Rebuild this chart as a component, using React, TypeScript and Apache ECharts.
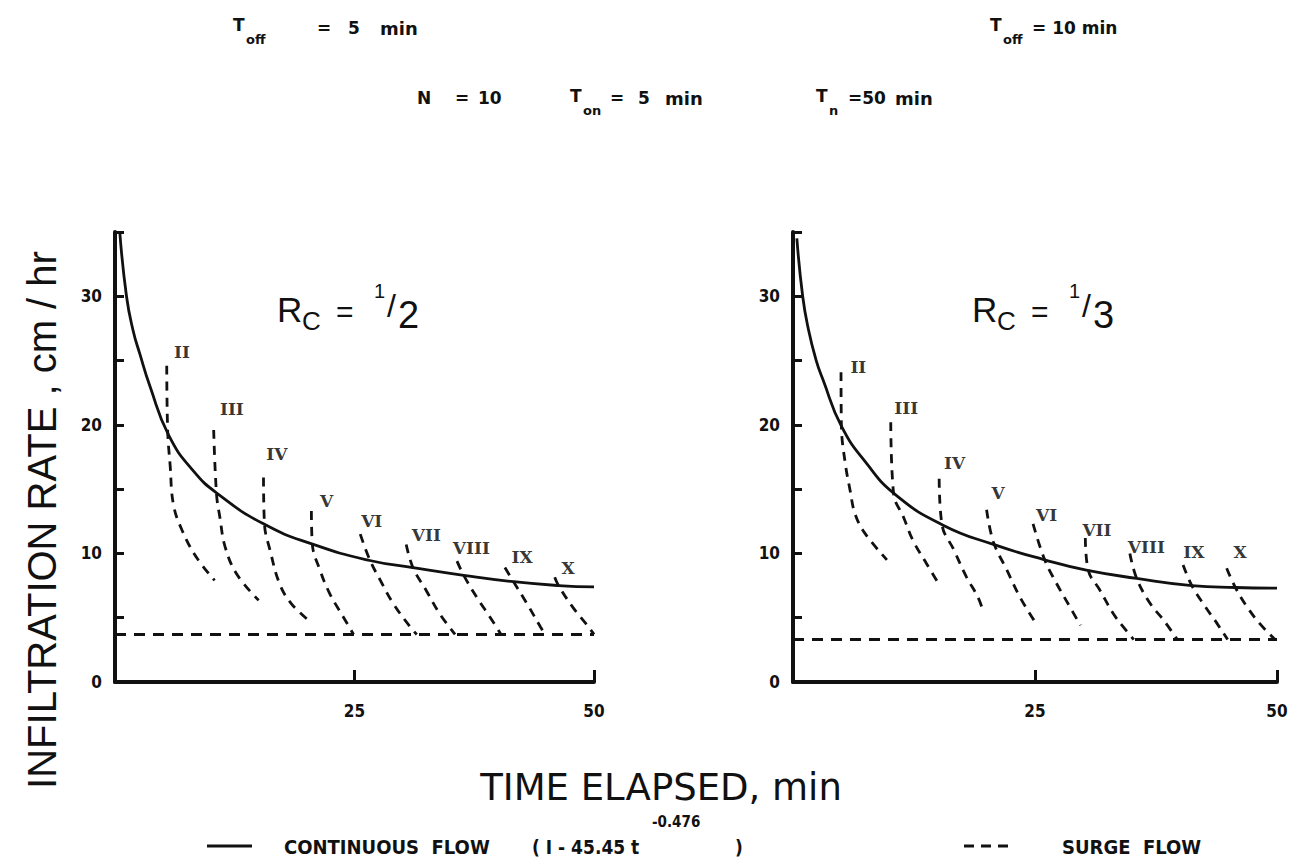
import React, { useEffect, useRef } from 'react';
import * as echarts from 'echarts';

type P = [number, number];

// ---- axes ----
const xMin = 0;
const xMax = 50;
const xInterval = 25;
const yMin = 0;
const yMax = 35;
const yInterval = 5;
const xLabelValues = [25, 50];
const yLabelValues = [0, 10, 20, 30];

const romanNames = ['II', 'III', 'IV', 'V', 'VI', 'VII', 'VIII', 'IX', 'X'];

// ---- Rc = 1/2 (left) ----
const continuousHalf: P[] = [
  [0.5, 35], [1.2, 30], [1.9, 27.3], [2.6, 25.5], [3.65, 23.0], [5.6, 19.2],
  [8.2, 16.4], [10.8, 14.6], [15.5, 12.3], [20.7, 10.7], [26.6, 9.45],
  [31.1, 8.9], [36.4, 8.3], [41.6, 7.8], [46.3, 7.5], [50, 7.4],
];
const baseHalf = 3.7;
const surgeHalf: P[][] = [
  [[5.4, 24.6], [5.5, 19.5], [5.75, 16.9], [6.1, 13.8], [7.0, 11.8], [8.5, 9.7], [10.4, 7.9]],
  [[10.3, 19.6], [10.6, 14.6], [10.95, 12.8], [11.5, 10.5], [12.7, 8.4], [15.0, 6.35]],
  [[15.5, 15.9], [15.6, 12.3], [16.2, 10.2], [17.2, 7.6], [18.4, 6.1], [20.2, 4.8]],
  [[20.5, 13.3], [20.6, 10.7], [21.4, 8.7], [22.4, 6.9], [23.8, 5.1], [24.9, 3.7]],
  [[25.6, 11.5], [26.6, 9.5], [27.7, 7.9], [29.05, 6.1], [30.8, 4.3], [31.5, 3.7]],
  [[30.4, 10.7], [31.1, 8.9], [32.5, 7.1], [33.9, 5.3], [35.5, 3.7]],
  [[35.7, 9.4], [36.4, 8.3], [37.75, 6.6], [39.1, 5.1], [40.3, 3.7]],
  [[40.7, 8.9], [41.6, 7.8], [43.0, 6.1], [44.4, 4.3], [44.9, 3.7]],
  [[45.9, 8.15], [46.3, 7.5], [47.8, 5.8], [49.2, 4.5], [50, 3.7]],
];
const labelPosHalf: P[] = [
  [7.0, 25.7], [12.2, 21.2], [16.9, 17.7], [22.1, 14.1], [26.8, 12.5],
  [32.5, 11.4], [37.2, 10.4], [42.5, 9.7], [47.3, 8.9],
];

// ---- Rc = 1/3 (right) ----
const continuousThird: P[] = [
  [0.4, 34.5], [1.0, 30], [1.6, 27.4], [2.4, 25], [3.1, 23.5], [5.0, 19.9], [7.6, 17.0],
  [10.7, 14.5], [15.5, 12.2], [20.7, 10.7], [26.0, 9.5], [30.3, 8.7],
  [35.5, 8.06], [41.2, 7.5], [45.7, 7.35], [50, 7.3],
];
const baseThird = 3.3;
const surgeThird: P[][] = [
  [[4.96, 24.1], [5.0, 19.9], [5.4, 17.0], [5.9, 14.9], [6.4, 13.1], [7.4, 11.6], [9.7, 9.5]],
  [[10.1, 20.2], [10.4, 14.6], [11.4, 12.85], [12.4, 11.0], [13.8, 9.2], [15.0, 7.7]],
  [[15.1, 15.8], [15.4, 12.2], [16.6, 10.3], [17.9, 8.2], [19.1, 6.6], [19.7, 5.4]],
  [[20.0, 13.4], [20.7, 10.9], [22.1, 8.7], [23.45, 6.6], [24.9, 4.8]],
  [[24.8, 12.3], [26.0, 9.5], [27.2, 7.7], [28.6, 5.85], [29.7, 4.4]],
  [[30.2, 11.2], [30.5, 8.7], [31.7, 7.15], [33.1, 5.3], [34.1, 4.3], [35.2, 3.3]],
  [[34.8, 10.0], [35.5, 8.06], [36.9, 6.1], [38.3, 4.8], [39.7, 3.3]],
  [[40.3, 9.1], [41.2, 7.5], [42.6, 5.85], [43.8, 4.56], [44.9, 3.3]],
  [[44.8, 8.85], [45.7, 7.35], [46.9, 5.85], [48.2, 4.56], [49.8, 3.3]],
];
const labelPosThird: P[] = [
  [6.75, 24.5], [11.7, 21.3], [16.7, 17.0], [21.2, 14.7], [26.2, 13.0],
  [31.4, 11.8], [36.5, 10.5], [41.4, 10.1], [46.2, 10.1],
];

const INK = '#111111';
const SANS = "'DejaVu Sans', 'Liberation Sans', sans-serif";
const COND = "'DejaVu Sans Condensed', 'Liberation Sans Narrow', 'DejaVu Sans', sans-serif";
const PLAIN = "'Liberation Sans', 'Noto Sans', sans-serif";
const SERIF = "'DejaVu Serif', 'Liberation Serif', serif";

function buildSeries(k: number, cont: P[], base: number, surges: P[][], labels: P[]) {
  const out: any[] = [];
  out.push({
    type: 'line', xAxisIndex: k, yAxisIndex: k, data: cont, smooth: 0.5,
    symbol: 'none', silent: true, z: 4, lineStyle: { color: INK, width: 2.8 },
  });
  out.push({
    type: 'line', xAxisIndex: k, yAxisIndex: k, data: [[xMin, base], [xMax, base]],
    symbol: 'none', silent: true, lineStyle: { color: INK, width: 3, type: [11, 8] },
  });
  surges.forEach((s) => {
    out.push({
      type: 'line', xAxisIndex: k, yAxisIndex: k, data: s, smooth: 0.4,
      symbol: 'none', silent: true, lineStyle: { color: INK, width: 2.8, type: [9, 7] },
    });
  });
  out.push({
    type: 'scatter', xAxisIndex: k, yAxisIndex: k, symbolSize: 1, silent: true,
    itemStyle: { color: 'rgba(255,255,255,0)' },
    data: labels.map((p, i) => ({ value: p, name: romanNames[i] })),
    label: {
      show: true, formatter: '{b}', position: 'inside', color: '#000',
      fontSize: 17, fontWeight: 'bold', fontFamily: SERIF, textBorderWidth: 0,
    },
  });
  return out;
}

function txt(x: number, y: number, text: string, size: number, extra: any = {}) {
  return {
    type: 'text', x, y, silent: true,
    style: {
      text, fontSize: size, fontFamily: SANS, fontWeight: 'bold', fill: INK,
      textAlign: 'left', textVerticalAlign: 'middle', ...extra,
    },
  };
}

function rcTitle(dx: number, denom: string) {
  const f = { fontFamily: PLAIN, fontWeight: 'normal' };
  return [
    txt(277 + dx, 309, 'R', 35, f),
    txt(302 + dx, 321, 'C', 26, f),
    txt(336 + dx, 311, '=', 30, f),
    txt(374 + dx, 291, '1', 20, f),
    txt(387 + dx, 306, '/', 32, f),
    txt(398 + dx, 315, denom, 38, f),
  ];
}

const App: React.FC = () => {
  const ref = useRef<HTMLDivElement>(null);
  useEffect(() => {
    if (!ref.current) return;
    const chart = echarts.init(ref.current, null, { renderer: 'svg' });
    const xAxisBase = (gi: number) => ({
      type: 'value', gridIndex: gi, min: xMin, max: xMax, interval: xInterval,
      axisLine: { show: true, lineStyle: { color: INK, width: 4 } },
      axisTick: { show: true, inside: true, length: 12, lineStyle: { color: INK, width: 3 } },
      axisLabel: {
        margin: 20, color: INK, fontSize: 17, fontWeight: 'bold', fontFamily: COND,
        formatter: (v: number) => (xLabelValues.includes(v) ? String(v) : ''),
      },
      splitLine: { show: false },
    });
    const yAxisBase = (gi: number) => ({
      type: 'value', gridIndex: gi, min: yMin, max: yMax, interval: yInterval,
      axisLine: { show: true, lineStyle: { color: INK, width: 4 } },
      axisTick: { show: true, inside: true, length: 9, lineStyle: { color: INK, width: 3 } },
      axisLabel: {
        margin: 13, color: INK, fontSize: 17, fontWeight: 'bold', fontFamily: COND,
        formatter: (v: number) => (yLabelValues.includes(v) ? String(v) : ''),
      },
      splitLine: { show: false },
    });

    const graphic: any[] = [
      // top parameter lines
      txt(233, 25, 'T', 17), txt(246, 39, 'off', 13), txt(317, 28, '=', 17), txt(348, 28, '5', 17), txt(380, 28, 'min', 18),
      txt(990, 25, 'T', 17), txt(1003, 39, 'off', 13), txt(1032, 28, '= 10 min', 17),
      txt(417, 98, 'N', 17), txt(455, 98, '=', 17), txt(478, 98, '10', 17),
      txt(570, 96, 'T', 17), txt(583, 110, 'on', 13), txt(610, 98, '=', 17), txt(638, 98, '5', 17), txt(665, 98, 'min', 18),
      txt(816, 96, 'T', 17), txt(829, 110, 'n', 13), txt(848, 98, '=50', 17), txt(895, 98, 'min', 18),
      ...rcTitle(0, '2'),
      ...rcTitle(695, '3'),
      // axis names
      {
        type: 'text', x: 42, y: 520, rotation: Math.PI / 2, silent: true,
        style: {
          text: 'INFILTRATION RATE , cm / hr', fontSize: 40, fontFamily: PLAIN, fill: INK,
          textAlign: 'center', textVerticalAlign: 'middle',
        },
      },
      txt(661, 787, 'TIME ELAPSED, min', 37, { fontFamily: SANS, fontWeight: 'normal', textAlign: 'center' }),
      // legend
      { type: 'line', silent: true, shape: { x1: 207, y1: 846, x2: 252, y2: 846 }, style: { stroke: INK, lineWidth: 3 } },
      txt(284, 847, 'CONTINUOUS  FLOW', 20, { fontFamily: COND }),
      txt(532, 847, '( I - 45.45 t', 19, { fontFamily: COND }),
      txt(652, 822, '-0.476', 15, { fontFamily: COND }),
      txt(735, 847, ')', 19, { fontFamily: COND }),
      { type: 'line', silent: true, shape: { x1: 964, y1: 846, x2: 1008, y2: 846 }, style: { stroke: INK, lineWidth: 3, lineDash: [10, 7] } },
      txt(1062, 847, 'SURGE  FLOW', 20, { fontFamily: COND }),
    ];

    chart.setOption({
      animation: false,
      backgroundColor: '#ffffff',
      grid: [
        { left: 115, top: 232, width: 479, height: 450 },
        { left: 793, top: 232, width: 484, height: 450 },
      ],
      xAxis: [xAxisBase(0), xAxisBase(1)],
      yAxis: [yAxisBase(0), yAxisBase(1)],
      series: [
        ...buildSeries(0, continuousHalf, baseHalf, surgeHalf, labelPosHalf),
        ...buildSeries(1, continuousThird, baseThird, surgeThird, labelPosThird),
      ],
      graphic,
    });
    return () => chart.dispose();
  }, []);
  return (
    <div
      ref={ref}
      style={{ position: 'absolute', left: 0, top: 0, width: 1298, height: 865, background: '#fff' }}
    />
  );
};

export default App;
